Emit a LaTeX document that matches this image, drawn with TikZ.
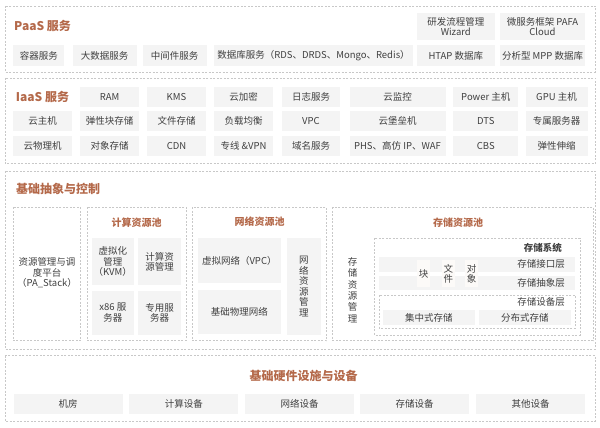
\documentclass[tikz,border=0pt]{standalone}
\usepackage{fontspec}
\setmainfont{Noto Sans CJK SC}
\usepackage{tikz}
\usepackage{xcolor}

\definecolor{zonegray}{HTML}{C8C8C8}
\definecolor{cellgray}{HTML}{F4F4F4}
\definecolor{textgray}{HTML}{404040}
\definecolor{titlebrown}{HTML}{B4694A}
\definecolor{slotwhite}{HTML}{FCFAF8}

\tikzset{
    zone/.style={draw=zonegray, dash pattern=on 2pt off 1.5pt, line width=0.6pt},
    cell/.style={fill=cellgray, text=textgray, inner sep=0pt, align=center,
        font=\fontsize{9.5}{10.5}\selectfont},
    ttl/.style={text=titlebrown, inner sep=0pt, font=\fontsize{12}{14}\selectfont\bfseries},
    poolttl/.style={text=titlebrown, inner sep=0pt, font=\fontsize{10}{12}\selectfont\bfseries},
    plain/.style={text=textgray, inner sep=0pt, align=center, font=\fontsize{9.5}{10.5}\selectfont}
}

\begin{document}
\begin{tikzpicture}[x=1pt, y=-1pt]
    \useasboundingbox (0,0) rectangle (600,428);

    % PaaS layer
    \draw[zone] (5,6) rectangle (595,72);
    \node[ttl, anchor=west] (paas) at (14,26) {PaaS 服务};
    \node[cell, minimum width=78, minimum height=27] (wizard) at (455.8,26.5) {研发流程管理\\Wizard};
    \node[cell, minimum width=85, minimum height=27] (pafa) at (542.5,26.5) {微服务框架 PAFA\\Cloud};
    \foreach \i/\x/\w/\label in {1/38.8/51/容器服务, 2/104.7/64/大数据服务, 3/174.7/64/中间件服务,
        4/313.5/199/数据库服务（RDS、DRDS、Mongo、Redis）, 5/455.8/78/HTAP 数据库, 6/542.5/85/分析型 MPP 数据库} {
        \node[cell, minimum width=\w, minimum height=21] (p\i) at (\x,55.5) {\label};
    }

    % IaaS layer
    \draw[zone] (5,78) rectangle (595,163.5);
    \node[ttl] (iaas) at (42.5,96.7) {IaaS 服务};
    \foreach \i/\x/\w/\label in {1/109.5/59/RAM, 2/176.5/59/KMS, 3/243.5/59/云加密, 4/311/58/日志服务,
        5/397.5/96/云监控, 6/485.8/65/Power 主机, 7/556.5/62/GPU 主机} {
        \node[cell, minimum width=\w, minimum height=20] (ia\i) at (\x,96.7) {\label};
    }
    \foreach \i/\x/\w/\label in {0/42.5/59/云主机, 1/109.5/59/弹性块存储, 2/176.5/59/文件存储, 3/243.5/59/负载均衡,
        4/311/58/VPC, 5/397.5/96/云堡垒机, 6/485.8/65/DTS, 7/556.5/62/专属服务器} {
        \node[cell, minimum width=\w, minimum height=20] (ib\i) at (\x,121.3) {\label};
    }
    \foreach \i/\x/\w/\label in {0/42.5/59/云物理机, 1/109.5/59/对象存储, 2/176.5/59/CDN, 3/243.5/59/专线 \&VPN,
        4/311/58/域名服务, 5/397.5/96/PHS、高仿 IP、WAF, 6/485.8/65/CBS, 7/556.5/62/弹性伸缩} {
        \node[cell, minimum width=\w, minimum height=20] (ic\i) at (\x,146.3) {\label};
    }

    % Abstraction and control layer
    \draw[zone] (5,171) rectangle (595,349);
    \node[ttl, anchor=west] (ctrl) at (16,189) {基础抽象与控制};

    % PA_Stack
    \draw[zone] (13.3,207.3) rectangle (80.7,340.7);
    \node[plain] (stack) at (47,273) {资源管理与调\\度平台\\（PA\_Stack）};

    % Compute pool
    \draw[zone] (87.3,207.3) rectangle (186,340.7);
    \node[poolttl] (cpool) at (136.7,222.3) {计算资源池};
    \node[cell, minimum width=42.3, minimum height=46.7] (kvm) at (112.8,261.7) {虚拟化\\管理\\（KVM）};
    \node[cell, minimum width=42.3, minimum height=46.7] (cmgr) at (159.5,261.7) {计算资\\源管理};
    \node[cell, minimum width=42.3, minimum height=44.3] (x86) at (112.8,312.8) {x86 服\\务器};
    \node[cell, minimum width=42.3, minimum height=44.3] (dedi) at (159.5,312.8) {专用服\\务器};

    % Network pool
    \draw[zone] (192.3,207.3) rectangle (326.7,340.7);
    \node[poolttl] (npool) at (259.5,221.7) {网络资源池};
    \node[cell, minimum width=83.3, minimum height=45] (vpc) at (239.3,260.8) {虚拟网络（VPC）};
    \node[cell, minimum width=83.3, minimum height=44] (phys) at (239.3,312) {基础物理网络};
    \node[cell, minimum width=34.3, minimum height=96.5] (nmgr) at (303.8,286.3) {网\\络\\资\\源\\管\\理};

    % Storage pool
    \draw[zone] (332.7,207.3) rectangle (593.3,340.7);
    \node[poolttl] (spool) at (458,222.7) {存储资源池};
    \node[plain, font=\fontsize{9.5}{11.3}\selectfont] (smgr) at (352.7,290) {存\\储\\资\\源\\管\\理};

    % Storage system
    \draw[zone] (374.3,238.3) rectangle (580,335);
    \node[plain, anchor=east, font=\fontsize{9.5}{11}\selectfont\bfseries] (ssys) at (562,248.3) {存储系统};
    \node[cell, minimum width=195.7, minimum height=15] (iface) at (477.2,264.2) {};
    \node[plain, anchor=east] at (565,264.2) {存储接口层};
    \node[cell, minimum width=195.7, minimum height=14] (abst) at (477.2,283) {};
    \node[plain, anchor=east] at (565,283) {存储抽象层};
    \foreach \i/\x/\label in {1/423.7/块, 2/448.3/文\\件, 3/471.7/对\\象} {
        \node[cell, fill=slotwhite, minimum width=12.7, minimum height=27.3] (slot\i) at (\x,273.7) {\label};
    }
    \draw[zone] (379.3,295) rectangle (575,328.3);
    \node[plain, anchor=east] (dev) at (565,301.7) {存储设备层};
    \node[cell, minimum width=92.3, minimum height=15] (central) at (428.8,317.5) {集中式存储};
    \node[cell, minimum width=91.7, minimum height=15] (distrib) at (524.8,317.5) {分布式存储};

    % Hardware layer
    \draw[zone] (5,355.7) rectangle (595,421);
    \node[ttl] (hw) at (303.7,375.7) {基础硬件设施与设备};
    \foreach \i/\x/\label in {1/68/机房, 2/183.8/计算设备, 3/299.5/网络设备, 4/414.7/存储设备, 5/530.5/其他设备} {
        \node[cell, minimum width=109, minimum height=20.3] (h\i) at (\x,404.2) {\label};
    }
\end{tikzpicture}
\end{document}
